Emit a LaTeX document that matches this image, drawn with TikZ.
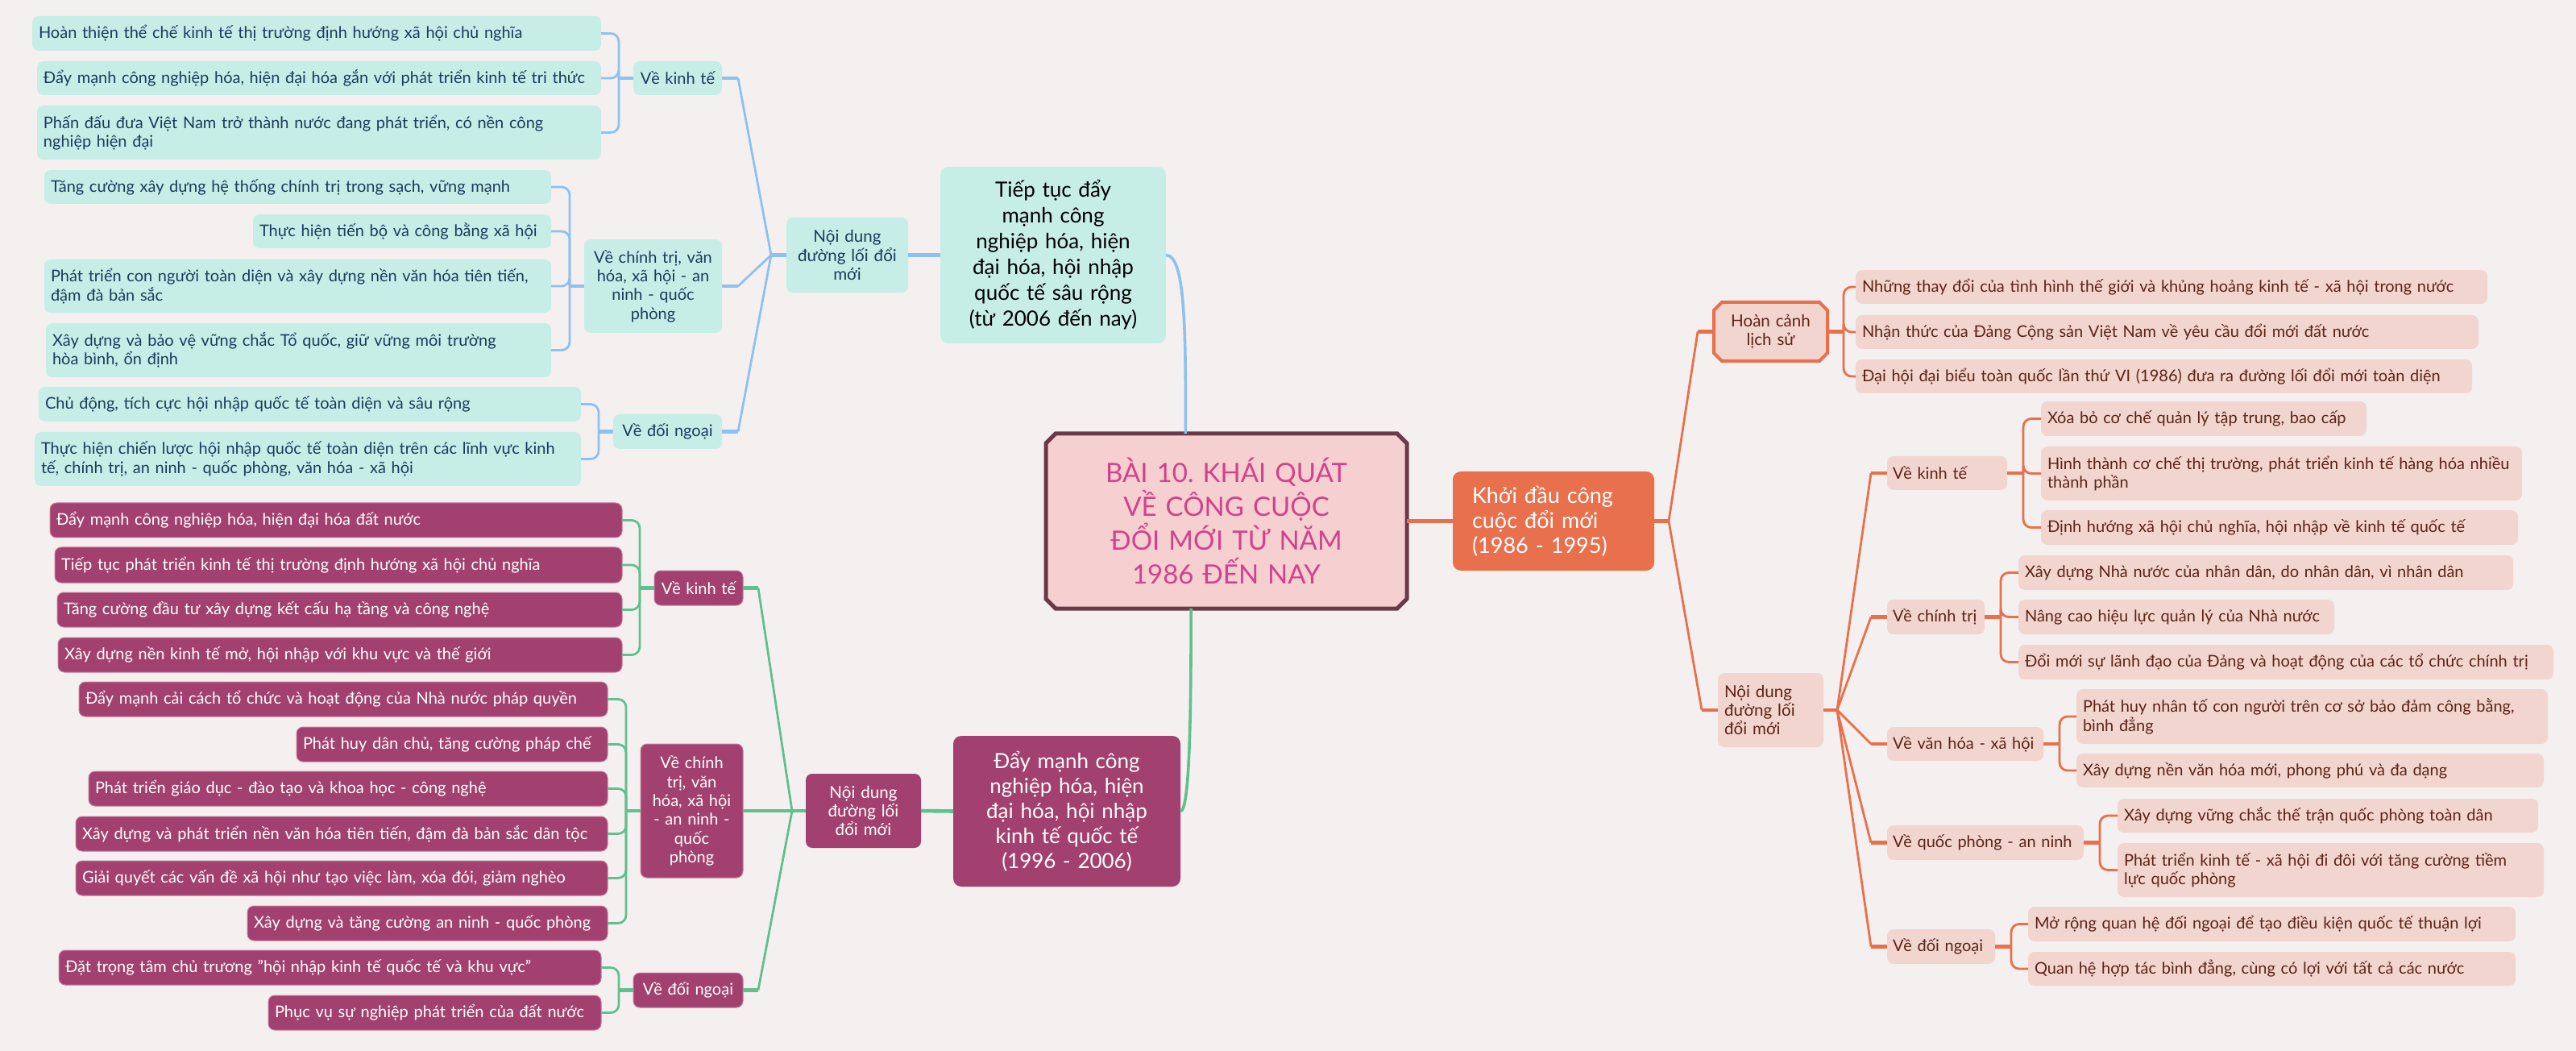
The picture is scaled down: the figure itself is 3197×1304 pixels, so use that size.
\documentclass[tikz,border=0pt]{standalone}
\usepackage{fontspec}
\setmainfont{Lato}
\frenchspacing
\usetikzlibrary{shapes.misc,calc}
\definecolor{bgc}{HTML}{F4F0EF}
\definecolor{mintc}{HTML}{C6EEE7}
\definecolor{navyc}{HTML}{1E3A5C}
\definecolor{blueln}{HTML}{8FC1EE}
\definecolor{plumc}{HTML}{A2406F}
\definecolor{plumbd}{HTML}{C97AA0}
\definecolor{greenln}{HTML}{62BF90}
\definecolor{orangec}{HTML}{E8704C}
\definecolor{salmonc}{HTML}{F2D5CF}
\definecolor{brownc}{HTML}{5B2418}
\definecolor{rootfill}{HTML}{F6D0D0}
\definecolor{rootbd}{HTML}{6B3A48}
\definecolor{roottx}{HTML}{D2428C}
\newcommand\mynode[7]{%
  \pgfmathsetmacro\bw{(#5-#3)/2}%
  \pgfmathsetmacro\bh{(#6-#4)/2}%
  \node[#1, minimum width=\bw pt, minimum height=\bh pt, text width=\bw pt-2*\pgfkeysvalueof{/pgf/inner xsep}] (#2) at ({(#3+#5)/2},{(#4+#6)/2}) {#7};}
\tikzset{
  base/.style={rounded corners=4pt, inner xsep=4pt, inner ysep=1pt, outer sep=0pt},
  fleaf/.style={font=\fontsize{10}{11.7}\selectfont},
  leafB/.style={base, fleaf, fill=mintc, text=navyc, align=left},
  midB/.style={base, fleaf, inner xsep=1.5pt, fill=mintc, text=navyc, align=center},
  ndB/.style={base, font=\fontsize{10.3}{11.7}\selectfont, inner xsep=2pt, fill=mintc, text=navyc, align=center},
  bigB/.style={base, rounded corners=5pt, font=\fontsize{13}{16}\selectfont, inner xsep=2pt, fill=mintc, text=black, align=center},
  leafG/.style={base, fleaf, fill=plumc, draw=plumbd, line width=0.5pt, text=white, align=left},
  midG/.style={base, fleaf, inner xsep=1.5pt, fill=plumc, draw=plumbd, line width=0.5pt, text=white, align=center},
  ndG/.style={base, font=\fontsize{10.3}{11.7}\selectfont, inner xsep=2pt, fill=plumc, text=white, align=center},
  bigG/.style={base, rounded corners=5pt, font=\fontsize{13}{15.5}\selectfont, inner xsep=2pt, fill=plumc, text=white, align=center},
  leafO/.style={base, fleaf, fill=salmonc, text=brownc, align=left},
  midO/.style={base, fleaf, inner xsep=3.5pt, fill=salmonc, text=brownc, align=left},
  ndO/.style={base, font=\fontsize{10.3}{11.7}\selectfont, inner xsep=4pt, fill=salmonc, text=brownc, align=left},
  hcO/.style={chamfered rectangle, chamfered rectangle xsep=2.5pt, chamfered rectangle ysep=2.5pt, inner xsep=2pt, inner ysep=1pt, outer sep=0pt, font=\fontsize{10.3}{11.7}\selectfont, fill=salmonc, draw=orangec, line width=2pt, text=brownc, align=center},
  bigO/.style={base, rounded corners=5pt, font=\fontsize{13.5}{15.5}\selectfont, inner xsep=12pt, fill=orangec, text=white, align=left},
  rootst/.style={chamfered rectangle, chamfered rectangle xsep=3pt, chamfered rectangle ysep=3pt, inner xsep=2pt, inner ysep=1pt, outer sep=0pt, font=\fontsize{16.5}{21}\selectfont, fill=rootfill, draw=rootbd, line width=2.5pt, text=roottx, align=center},
  ln/.style={line width=1.4pt},
  stub/.style={line width=2.3pt},
  br/.style={line width=1.4pt, rounded corners=5pt},
}
\begin{document}
\begin{tikzpicture}[x=0.5pt, y=-0.5pt]
\fill[bgc] (0,0) rectangle (3197,1304);
\useasboundingbox (0,0) rectangle (3197,1304);

% ---------------- root and main branches
\mynode{rootst}{root}{1304}{538}{1740}{755}{BÀI 10. KHÁI QUÁT\\VỀ CÔNG CUỘC\\ĐỔI MỚI TỪ NĂM\\1986 ĐẾN NAY}
\mynode{bigB}{tt}{1167}{207}{1447}{426}{Tiếp tục đẩy\\mạnh công\\nghiệp hóa, hiện\\đại hóa, hội nhập\\quốc tế sâu rộng\\(từ 2006 đến nay)}
\mynode{bigG}{dm}{1183}{913}{1465}{1100}{Đẩy mạnh công\\nghiệp hóa, hiện\\đại hóa, hội nhập\\kinh tế quốc tế\\(1996 - 2006)}
\mynode{bigO}{kd}{1803}{585}{2053}{708}{Khởi đầu công\\cuộc đổi mới\\(1986 - 1995)}

% ---------------- blue branch
\mynode{ndB}{ndB}{976}{270}{1127}{363}{Nội dung\\đường lối đổi\\mới}
\mynode{midB}{vktB}{786}{76}{896}{118}{Về kinh tế}
\mynode{midB}{vctB}{725}{297}{896}{413}{Về chính trị, văn\\hóa, xã hội - an\\ninh - quốc\\phòng}
\mynode{midB}{vdnB}{761}{514}{896}{557}{Về đối ngoại}
\mynode{leafB}{b1}{40}{20}{746}{63}{Hoàn thiện thể chế kinh tế thị trường định hướng xã hội chủ nghĩa}
\mynode{leafB}{b2}{46}{76}{746}{118}{Đẩy mạnh công nghiệp hóa, hiện đại hóa gắn với phát triển kinh tế tri thức}
\mynode{leafB}{b3}{46}{131}{746}{198}{Phấn đấu đưa Việt Nam trở thành nước đang phát triển, có nền công\\nghiệp hiện đại}
\mynode{leafB}{b4}{55}{211}{684}{253}{Tăng cường xây dựng hệ thống chính trị trong sạch, vững mạnh}
\mynode{leafB}{b5}{314}{266}{684}{308}{Thực hiện tiến bộ và công bằng xã hội}
\mynode{leafB}{b6}{55}{322}{684}{388}{Phát triển con người toàn diện và xây dựng nền văn hóa tiên tiến,\\đậm đà bản sắc}
\mynode{leafB}{b7}{57}{401}{684}{468}{Xây dựng và bảo vệ vững chắc Tổ quốc, giữ vững môi trường\\hòa bình, ổn định}
\mynode{leafB}{b8}{48}{480}{721}{523}{Chủ động, tích cực hội nhập quốc tế toàn diện và sâu rộng}
\mynode{leafB}{b9}{43}{536}{721}{603}{Thực hiện chiến lược hội nhập quốc tế toàn diện trên các lĩnh vực kinh\\tế, chính trị, an ninh - quốc phòng, văn hóa - xã hội}

% ---------------- plum branch
\mynode{ndG}{ndG}{1000}{960}{1143}{1052}{Nội dung\\đường lối\\đổi mới}
\mynode{midG}{vktG}{812}{708}{922}{751}{Về kinh tế}
\mynode{midG}{vctG}{795}{923}{922}{1089}{Về chính\\trị, văn\\hóa, xã hội\\- an ninh -\\quốc\\phòng}
\mynode{midG}{vdnG}{786}{1207}{922}{1250}{Về đối ngoại}
\mynode{leafG}{g1}{62}{624}{772}{667}{Đẩy mạnh công nghiệp hóa, hiện đại hóa đất nước}
\mynode{leafG}{g2}{68}{679}{772}{723}{Tiếp tục phát triển kinh tế thị trường định hướng xã hội chủ nghĩa}
\mynode{leafG}{g3}{71}{735}{772}{778}{Tăng cường đầu tư xây dựng kết cấu hạ tầng và công nghệ}
\mynode{leafG}{g4}{72}{791}{772}{834}{Xây dựng nền kinh tế mở, hội nhập với khu vực và thế giới}
\mynode{leafG}{g5}{98}{846}{754}{889}{Đẩy mạnh cải cách tổ chức và hoạt động của Nhà nước pháp quyền}
\mynode{leafG}{g6}{368}{902}{754}{945}{Phát huy dân chủ, tăng cường pháp chế}
\mynode{leafG}{g7}{110}{957}{754}{1000}{Phát triển giáo dục - đào tạo và khoa học - công nghệ}
\mynode{leafG}{g8}{94}{1013}{754}{1056}{Xây dựng và phát triển nền văn hóa tiên tiến, đậm đà bản sắc dân tộc}
\mynode{leafG}{g9}{94}{1068}{754}{1111}{Giải quyết các vấn đề xã hội như tạo việc làm, xóa đói, giảm nghèo}
\mynode{leafG}{g10}{307}{1124}{754}{1167}{Xây dựng và tăng cường an ninh - quốc phòng}
\mynode{leafG}{g11}{73}{1179}{746}{1222}{Đặt trọng tâm chủ trương "hội nhập kinh tế quốc tế và khu vực"}
\mynode{leafG}{g12}{333}{1235}{746}{1278}{Phục vụ sự nghiệp phát triển của đất nước}

% ---------------- orange branch
\mynode{hcO}{hc}{2132}{375}{2263}{448}{Hoàn cảnh\\lịch sử}
\mynode{ndO}{ndO}{2132}{835}{2263}{927}{Nội dung\\đường lối\\đổi mới}
\mynode{midO}{vktO}{2342}{566}{2491}{608}{Về kinh tế}
\mynode{midO}{vctO}{2342}{744}{2463}{787}{Về chính trị}
\mynode{midO}{vvhO}{2342}{902}{2536}{944}{Về văn hóa - xã hội}
\mynode{midO}{vqpO}{2342}{1024}{2586}{1067}{Về quốc phòng - an ninh}
\mynode{midO}{vdnO}{2342}{1153}{2476}{1196}{Về đối ngoại}
\mynode{leafO}{o1}{2303}{335}{3087}{377}{Những thay đổi của tình hình thế giới và khủng hoảng kinh tế - xã hội trong nước}
\mynode{leafO}{o2}{2303}{391}{3076}{433}{Nhận thức của Đảng Cộng sản Việt Nam về yêu cầu đổi mới đất nước}
\mynode{leafO}{o3}{2303}{446}{3068}{488}{Đại hội đại biểu toàn quốc lần thứ VI (1986) đưa ra đường lối đổi mới toàn diện}
\mynode{leafO}{o4}{2533}{498}{2937}{541}{Xóa bỏ cơ chế quản lý tập trung, bao cấp}
\mynode{leafO}{o5}{2533}{554}{3130}{621}{Hình thành cơ chế thị trường, phát triển kinh tế hàng hóa nhiều\\thành phần}
\mynode{leafO}{o6}{2533}{633}{3125}{676}{Định hướng xã hội chủ nghĩa, hội nhập về kinh tế quốc tế}
\mynode{leafO}{o7}{2505}{689}{3119}{732}{Xây dựng Nhà nước của nhân dân, do nhân dân, vì nhân dân}
\mynode{leafO}{o8}{2505}{744}{2897}{787}{Nâng cao hiệu lực quản lý của Nhà nước}
\mynode{leafO}{o9}{2505}{800}{3169}{843}{Đổi mới sự lãnh đạo của Đảng và hoạt động của các tổ chức chính trị}
\mynode{leafO}{o10}{2577}{855}{3162}{923}{Phát huy nhân tố con người trên cơ sở bảo đảm công bằng,\\bình đẳng}
\mynode{leafO}{o11}{2577}{935}{3157}{977}{Xây dựng nền văn hóa mới, phong phú và đa dạng}
\mynode{leafO}{o12}{2628}{991}{3150}{1033}{Xây dựng vững chắc thế trận quốc phòng toàn dân}
\mynode{leafO}{o13}{2628}{1046}{3157}{1113}{Phát triển kinh tế - xã hội đi đôi với tăng cường tiềm\\lực quốc phòng}
\mynode{leafO}{o14}{2517}{1125}{3122}{1168}{Mở rộng quan hệ đối ngoại để tạo điều kiện quốc tế thuận lợi}
\mynode{leafO}{o15}{2517}{1181}{3122}{1223}{Quan hệ hợp tác bình đẳng, cùng có lợi với tất cả các nước}

% ================= connectors
% root to main branches
\draw[blueln, line width=1.8pt] (tt.east) .. controls +(25,0) and +(0,-120) .. (root.115);
\draw[greenln, line width=1.8pt] (dm.east) .. controls +(12,0) and +(0,120) .. (root.248);
\draw[orangec, line width=2.5pt] (root.east) -- (kd.west);

% blue
\draw[blueln, stub] (tt.west) -- (ndB.east);
\coordinate (jB) at ([xshift=-9.5pt]ndB.west);
\draw[blueln, stub] (ndB.west) -- (jB);
\foreach \p in {vktB,vctB,vdnB} {
  \draw[blueln, ln] (jB) -- ([xshift=10pt]\p.east);
  \draw[blueln, stub] ([xshift=10pt]\p.east) -- (\p.east);
}
\foreach \c in {b1,b2,b3} \draw[blueln, br] (\c.east) -| ([xshift=-9pt]vktB.west);
\draw[blueln, stub] (vktB.west) -- ++(-9pt,0);
\foreach \c in {b4,b5,b6,b7} \draw[blueln, br] (\c.east) -| ([xshift=-9pt]vctB.west);
\draw[blueln, stub] (vctB.west) -- ++(-9pt,0);
\foreach \c in {b8,b9} \draw[blueln, br] (\c.east) -| ([xshift=-9pt]vdnB.west);
\draw[blueln, stub] (vdnB.west) -- ++(-9pt,0);

% plum / green
\draw[greenln, stub] (dm.west) -- (ndG.east);
\coordinate (jG) at ([xshift=-8.5pt]ndG.west);
\draw[greenln, stub] (ndG.west) -- (jG);
\draw[greenln, stub] (vctG.east) -- (jG);
\foreach \p in {vktG,vdnG} {
  \draw[greenln, ln] (jG) -- ([xshift=9.5pt]\p.east);
  \draw[greenln, stub] ([xshift=9.5pt]\p.east) -- (\p.east);
}
\foreach \c in {g1,g2,g3,g4} \draw[greenln, br] (\c.east) -| ([xshift=-9pt]vktG.west);
\draw[greenln, stub] (vktG.west) -- ++(-9pt,0);
\foreach \c in {g5,g6,g7,g8,g9,g10} \draw[greenln, br] (\c.east) -| ([xshift=-9pt]vctG.west);
\draw[greenln, stub] (vctG.west) -- ++(-9pt,0);
\foreach \c in {g11,g12} \draw[greenln, br] (\c.east) -| ([xshift=-9pt]vdnG.west);
\draw[greenln, stub] (vdnG.west) -- ++(-9pt,0);

% orange
\coordinate (jO) at ([xshift=9pt]kd.east);
\draw[orangec, stub] (kd.east) -- (jO);
\foreach \p in {hc,ndO} {
  \draw[orangec, ln] (jO) -- ([xshift=-10pt]\p.west);
  \draw[orangec, stub] ([xshift=-10pt]\p.west) -- (\p.west);
}
\coordinate (jO2) at ([xshift=8.5pt]ndO.east);
\draw[orangec, stub] (ndO.east) -- (jO2);
\foreach \p in {vktO,vctO,vvhO,vqpO,vdnO} {
  \draw[orangec, ln] (jO2) -- ([xshift=-10pt]\p.west);
  \draw[orangec, stub] ([xshift=-10pt]\p.west) -- (\p.west);
}
\foreach \c in {o1,o2,o3} \draw[orangec, br] (\c.west) -| ([xshift=10pt]hc.east);
\draw[orangec, stub] (hc.east) -- ++(10pt,0);
\foreach \c in {o4,o5,o6} \draw[orangec, br] (\c.west) -| ([xshift=10pt]vktO.east);
\draw[orangec, stub] (vktO.east) -- ++(10pt,0);
\foreach \c in {o7,o8,o9} \draw[orangec, br] (\c.west) -| ([xshift=10pt]vctO.east);
\draw[orangec, stub] (vctO.east) -- ++(10pt,0);
\foreach \c in {o10,o11} \draw[orangec, br] (\c.west) -| ([xshift=10pt]vvhO.east);
\draw[orangec, stub] (vvhO.east) -- ++(10pt,0);
\foreach \c in {o12,o13} \draw[orangec, br] (\c.west) -| ([xshift=10pt]vqpO.east);
\draw[orangec, stub] (vqpO.east) -- ++(10pt,0);
\foreach \c in {o14,o15} \draw[orangec, br] (\c.west) -| ([xshift=10pt]vdnO.east);
\draw[orangec, stub] (vdnO.east) -- ++(10pt,0);
\end{tikzpicture}
\end{document}
